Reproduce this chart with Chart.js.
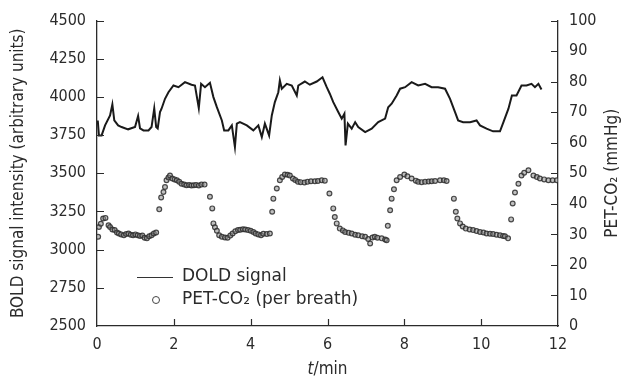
<!DOCTYPE html>
<html lang="en">
<head>
    <meta charset="UTF-8">
    <title>BOLD signal and PET-CO2</title>
    <script src="https://cdn.jsdelivr.net/npm/chart.js"></script>
    <style>
        html, body { margin: 0; padding: 0; background: #fff; }
        #wrap { width: 626px; height: 381px; position: relative; }
    </style>
</head>
<body>
<div id="wrap"><canvas id="chart" width="626" height="381"></canvas></div>
<script>
    // BOLD signal (arbitrary units), time in min
    const boldTime = [0.02, 0.05, 0.12, 0.21, 0.34, 0.40, 0.45, 0.55, 0.64, 0.81, 0.99, 1.07, 1.12, 1.21, 1.34, 1.42,
        1.49, 1.54, 1.58, 1.64, 1.68, 1.77, 1.86, 1.99, 2.12, 2.29, 2.46, 2.55, 2.65, 2.71, 2.81, 2.94, 3.03, 3.12,
        3.25, 3.31, 3.42, 3.51, 3.59, 3.64, 3.72, 3.90, 4.07, 4.20, 4.29, 4.37, 4.48, 4.55, 4.63, 4.72, 4.76, 4.81,
        4.94, 5.07, 5.20, 5.24, 5.41, 5.54, 5.72, 5.87, 5.98, 6.06, 6.15, 6.28, 6.37, 6.44, 6.47, 6.53, 6.63, 6.72,
        6.80, 6.98, 7.15, 7.32, 7.50, 7.58, 7.67, 7.80, 7.89, 8.02, 8.19, 8.36, 8.54, 8.71, 8.88, 9.06, 9.19, 9.32,
        9.40, 9.53, 9.71, 9.88, 9.97, 10.14, 10.31, 10.49, 10.58, 10.71, 10.80, 10.92, 11.05, 11.18, 11.31, 11.40,
        11.49, 11.57];
    const boldValue = [3846, 3748, 3748, 3814, 3879, 3951, 3846, 3814, 3803, 3788, 3803, 3875, 3794, 3781, 3781, 3803,
        3925, 3803, 3794, 3901, 3923, 3988, 4031, 4075, 4064, 4097, 4080, 4075, 3927, 4086, 4064, 4093, 3999, 3933,
        3846, 3781, 3781, 3814, 3672, 3825, 3835, 3814, 3781, 3814, 3737, 3825, 3748, 3879, 3966, 4031, 4108, 4054,
        4086, 4075, 4010, 4075, 4101, 4080, 4101, 4129, 4064, 4021, 3966, 3901, 3858, 3890, 3683, 3825, 3792, 3835,
        3803, 3770, 3792, 3835, 3858, 3933, 3956, 4010, 4054, 4064, 4097, 4075, 4086, 4064, 4064, 4054, 3988, 3901,
        3846, 3835, 3835, 3846, 3814, 3792, 3775, 3775, 3835, 3923, 4010, 4010, 4075, 4075, 4086, 4064,
        4086, 4049];

    // PET-CO2 per breath (mmHg)
    const petTime = [0.03, 0.05, 0.10, 0.16, 0.22, 0.30, 0.34, 0.40, 0.46, 0.52, 0.57, 0.63, 0.70, 0.76, 0.82, 0.88,
        0.94, 1.00, 1.06, 1.12, 1.18, 1.24, 1.30, 1.36, 1.42, 1.48, 1.54,
        1.62, 1.67, 1.73, 1.77, 1.81, 1.86, 1.90, 1.96, 2.02, 2.08, 2.14, 2.20, 2.27, 2.33, 2.40, 2.46, 2.52, 2.58,
        2.65, 2.72, 2.80,
        2.94, 3.00, 3.03, 3.07, 3.12, 3.18, 3.25, 3.33, 3.40, 3.47, 3.53, 3.60, 3.67, 3.73, 3.80, 3.86, 3.93, 4.00,
        4.07, 4.13, 4.20, 4.27, 4.33, 4.42, 4.50,
        4.56, 4.59, 4.68, 4.76, 4.82, 4.89, 4.96, 5.02, 5.10, 5.16, 5.23, 5.30, 5.40, 5.48, 5.57, 5.67, 5.75, 5.85,
        5.93,
        6.05, 6.15, 6.19, 6.24, 6.32, 6.40, 6.46, 6.55, 6.63, 6.72, 6.80, 6.90, 6.98, 7.06, 7.11, 7.17, 7.23, 7.30,
        7.41, 7.50, 7.54,
        7.57, 7.63, 7.67, 7.73, 7.80, 7.89, 8.00, 8.08, 8.19, 8.30, 8.36, 8.45, 8.54, 8.63, 8.71, 8.80, 8.93, 9.03,
        9.10,
        9.29, 9.34, 9.38, 9.45, 9.52, 9.60, 9.70, 9.79, 9.88, 9.97, 10.06, 10.14, 10.23, 10.31, 10.40, 10.49, 10.57,
        10.62, 10.70,
        10.78, 10.82, 10.88, 10.97, 11.05, 11.12, 11.23, 11.36, 11.45, 11.53, 11.64, 11.75, 11.86, 11.97];
    const petValue = [29.2, 32.4, 33.5, 35.2, 35.4, 33.0, 32.4, 31.6, 31.4, 30.6, 30.3, 30.0, 29.7, 30.1, 30.3, 29.9,
        29.7, 30.0, 29.7, 29.5, 29.6, 28.9, 28.7, 29.4, 29.7, 30.3, 30.6,
        38.2, 42.1, 43.9, 45.5, 47.7, 48.6, 49.3, 48.3, 48.0, 47.7, 47.2, 46.6, 46.3, 46.1, 46.2, 46.0, 46.1, 46.2,
        46.0, 46.3, 46.3,
        42.3, 38.5, 33.6, 32.3, 31.2, 29.7, 29.2, 29.0, 28.9, 29.6, 30.3, 31.0, 31.4, 31.5, 31.7, 31.6, 31.4, 31.2,
        30.8, 30.3, 30.0, 29.7, 30.2, 30.1, 30.3,
        37.4, 41.7, 45.0, 47.7, 48.8, 49.6, 49.5, 49.3, 48.3, 47.8, 47.2, 47.1, 47.0, 47.2, 47.4, 47.4, 47.5, 47.7,
        47.6,
        43.4, 38.5, 35.7, 33.6, 31.9, 31.3, 30.8, 30.5, 30.3, 29.9, 29.7, 29.4, 29.2, 28.5, 27.0, 29.0, 29.2, 28.9,
        28.7, 28.3, 28.1,
        32.8, 37.9, 41.7, 44.8, 47.7, 48.8, 49.6, 49.0, 48.3, 47.6, 47.2, 47.1, 47.2, 47.3, 47.4, 47.5, 47.7, 47.7,
        47.5,
        41.7, 37.4, 35.2, 33.6, 32.6, 31.9, 31.6, 31.4, 31.1, 30.8, 30.6, 30.3, 30.2, 30.1, 29.9, 29.7, 29.5,
        29.4, 28.7,
        34.9, 40.1, 43.7, 46.6, 49.3, 50.2, 51.0, 49.3, 48.8, 48.3, 48.0, 47.7, 47.7, 47.7];

    const xTicks = [0, 2, 4, 6, 8, 10, 12];
    const boldTicks = [2500, 2750, 3000, 3250, 3500, 3750, 4000, 4250, 4500];
    const petTicks = [0, 10, 20, 30, 40, 50, 60, 70, 80, 90, 100];

    const FONT = "'DejaVu Sans Condensed', 'DejaVu Sans', sans-serif";
    const WIDE = "'DejaVu Sans', sans-serif";
    const INK = '#2b2b2b';

    // ticks pointing into the plot area, custom legend, x title and right title
    const decorations = {
        id: 'decorations',
        afterDraw(chart) {
            const ctx = chart.ctx;
            const area = chart.chartArea;
            const sx = chart.scales.x, sy = chart.scales.y, sy2 = chart.scales.y2;
            ctx.save();
            ctx.strokeStyle = INK;
            ctx.lineWidth = 1.2;
            ctx.beginPath();
            xTicks.forEach(v => {
                if (v === 0 || v === 12) return;
                const px = Math.round(sx.getPixelForValue(v)) + 0.5;
                ctx.moveTo(px, area.bottom);
                ctx.lineTo(px, area.bottom - 7);
            });
            boldTicks.forEach(v => {
                if (v === 2500) return;
                const py = Math.round(sy.getPixelForValue(v)) + 0.5;
                ctx.moveTo(area.left, py);
                ctx.lineTo(area.left + 7, py);
            });
            petTicks.forEach(v => {
                if (v === 0) return;
                const py = Math.round(sy2.getPixelForValue(v)) + 0.5;
                ctx.moveTo(area.right, py);
                ctx.lineTo(area.right - 7, py);
            });
            ctx.stroke();

            // legend
            const lx = area.left + 40;
            const ly1 = area.bottom - 49;
            const ly2 = area.bottom - 26;
            ctx.strokeStyle = '#333';
            ctx.lineWidth = 1;
            ctx.beginPath();
            ctx.moveTo(lx, ly1 + 0.5);
            ctx.lineTo(lx + 36, ly1 + 0.5);
            ctx.stroke();
            ctx.beginPath();
            ctx.arc(lx + 19, ly2, 3.5, 0, Math.PI * 2);
            ctx.fillStyle = '#fff';
            ctx.fill();
            ctx.strokeStyle = '#444';
            ctx.stroke();
            ctx.fillStyle = INK;
            ctx.font = '17px ' + WIDE;
            ctx.textBaseline = 'middle';
            ctx.textAlign = 'left';
            ctx.fillText('DOLD signal', lx + 45, ly1);
            ctx.fillText('PET-CO\u2082 (per breath)', lx + 45, ly2);

            // x axis title: italic t + /min
            const cx = (area.left + area.right) / 2;
            const ty = area.bottom + 44;
            ctx.font = 'italic 17px ' + FONT;
            const w1 = ctx.measureText('t').width;
            ctx.font = '17px ' + FONT;
            const w2 = ctx.measureText('/min').width;
            const start = cx - (w1 + w2) / 2;
            ctx.font = 'italic 17px ' + FONT;
            ctx.fillText('t', start, ty);
            ctx.font = '17px ' + FONT;
            ctx.fillText('/min', start + w1, ty);

            // right axis title, reading bottom to top
            ctx.translate(area.right + 55, (area.top + area.bottom) / 2);
            ctx.rotate(-Math.PI / 2);
            ctx.textAlign = 'center';
            ctx.fillText('PET-CO\u2082 (mmHg)', 0, 0);
            ctx.restore();
        }
    };

    const axisBorder = { display: true, color: INK, width: 1.3 };
    const plainNumber = v => String(v);

    new Chart(document.getElementById('chart').getContext('2d'), {
        type: 'line',
        data: {
            datasets: [
                {
                    label: 'DOLD signal',
                    data: boldTime.map((t, i) => ({ x: t, y: boldValue[i] })),
                    yAxisID: 'y',
                    borderColor: '#1a1a1a',
                    borderWidth: 2,
                    pointRadius: 0,
                    tension: 0,
                    fill: false
                },
                {
                    label: 'PET-CO\u2082 (per breath)',
                    data: petTime.map((t, i) => ({ x: t, y: petValue[i] })),
                    yAxisID: 'y2',
                    showLine: false,
                    pointRadius: 2.4,
                    pointBorderWidth: 1.2,
                    pointBorderColor: 'rgba(45,45,45,0.85)',
                    pointBackgroundColor: 'rgba(140,140,140,0.55)'
                }
            ]
        },
        options: {
            responsive: false,
            animation: false,
            layout: { padding: { top: 20, left: 0, right: 0, bottom: 0 } },
            plugins: {
                legend: { display: false },
                tooltip: { enabled: false }
            },
            scales: {
                x: {
                    type: 'linear',
                    min: 0,
                    max: 12,
                    afterFit: s => { s.height = 55; },
                    afterBuildTicks: s => { s.ticks = xTicks.map(v => ({ value: v })); },
                    grid: { drawOnChartArea: false, drawTicks: false },
                    border: axisBorder,
                    ticks: { color: INK, font: { family: FONT, size: 16 }, padding: 9, maxRotation: 0, callback: plainNumber }
                },
                y: {
                    position: 'left',
                    min: 2500,
                    max: 4500,
                    afterFit: s => { s.width = 97; },
                    afterBuildTicks: s => { s.ticks = boldTicks.map(v => ({ value: v })); },
                    grid: { drawOnChartArea: false, drawTicks: false },
                    border: axisBorder,
                    ticks: { color: INK, font: { family: FONT, size: 16 }, padding: 11, callback: plainNumber },
                    title: {
                        display: true,
                        text: 'BOLD signal intensity (arbitrary units)',
                        color: INK,
                        font: { family: FONT, size: 17 },
                        padding: { top: 8, bottom: 0 }
                    }
                },
                y2: {
                    position: 'right',
                    min: 0,
                    max: 100,
                    afterFit: s => { s.width = 68; },
                    afterBuildTicks: s => { s.ticks = petTicks.map(v => ({ value: v })); },
                    grid: { drawOnChartArea: false, drawTicks: false },
                    border: axisBorder,
                    ticks: { color: INK, font: { family: FONT, size: 16 }, padding: 11, callback: plainNumber }
                }
            }
        },
        plugins: [decorations]
    });
</script>
</body>
</html>
